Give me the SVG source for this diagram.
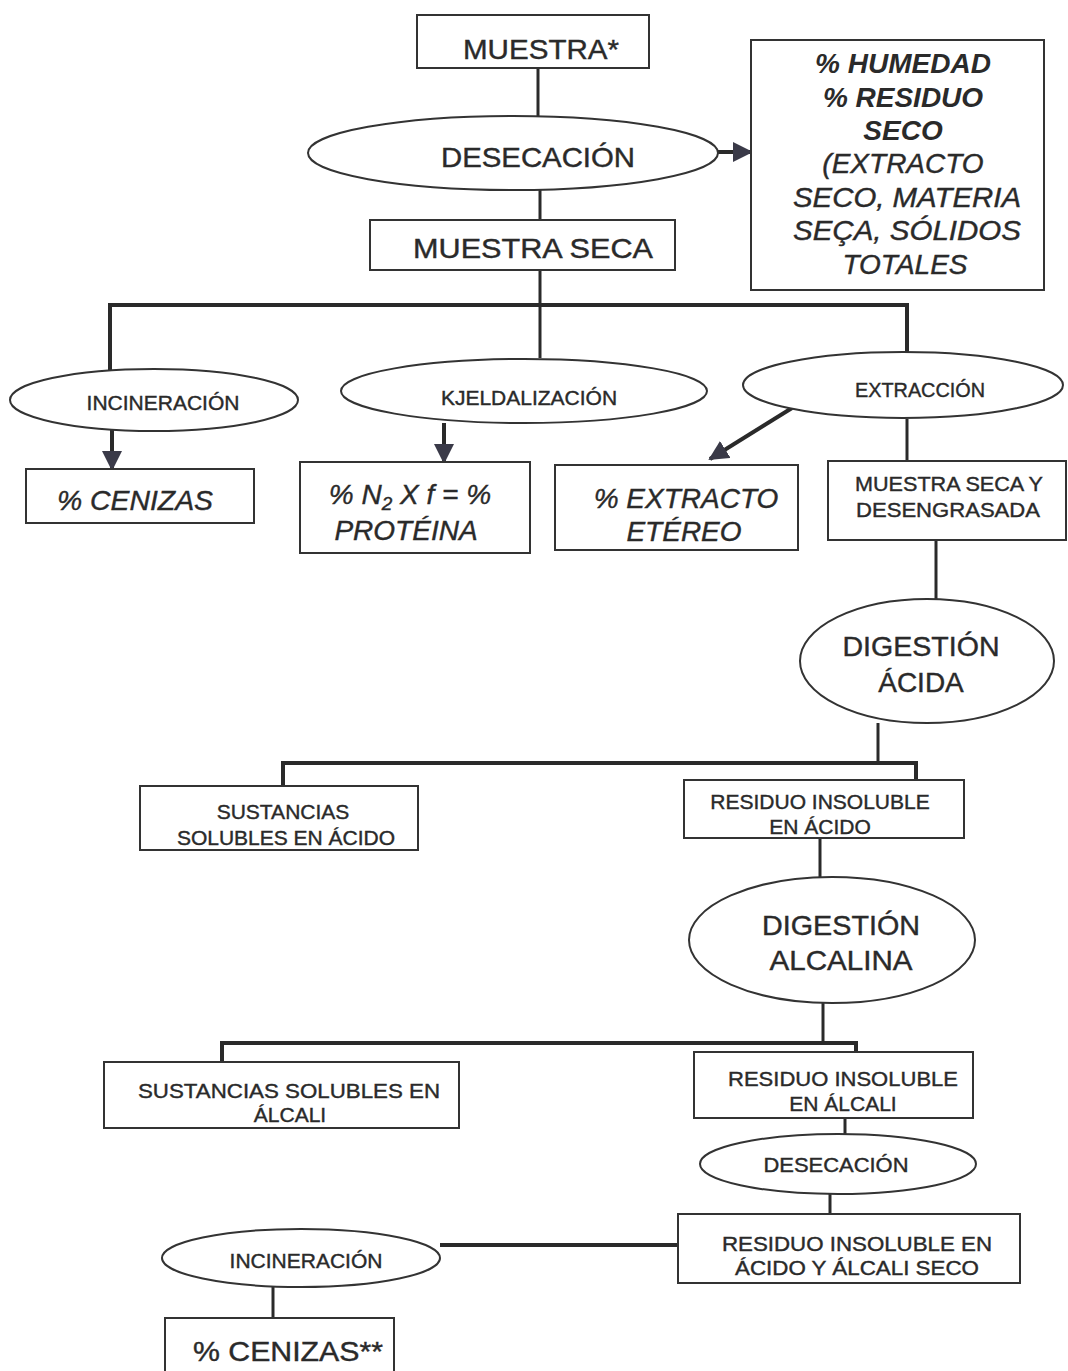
<svg xmlns="http://www.w3.org/2000/svg" width="1068" height="1371" viewBox="0 0 1068 1371">
<style>
.box{fill:#fff;stroke:#333;stroke-width:2}
.ell{fill:#fff;stroke:#333;stroke-width:2}
.ln{fill:none;stroke:#2a2a2a;stroke-width:3}
.bus{fill:none;stroke:#2a2a2a;stroke-width:4}
text{font-family:"Liberation Sans",Arial,sans-serif;fill:#2a2a2a;stroke:#2a2a2a;stroke-width:0.4;text-anchor:middle}
.l{font-size:28px}
.s{font-size:21px}
.i{font-style:italic}
.b{font-weight:bold;stroke-width:0}
</style>
<defs>
<marker id="ahb" viewBox="0 0 10 10" refX="9" refY="5" markerWidth="20" markerHeight="20" orient="auto" markerUnits="userSpaceOnUse">
<path d="M0,0 L10,5 L0,10 Z" fill="#3a3a48"/>
</marker>
</defs>
<rect width="1068" height="1371" fill="#fff"/>
<g id="connectors">
<line class="ln" x1="538" y1="68" x2="538" y2="116"/>
<line class="ln" x1="718" y1="152" x2="751" y2="152" marker-end="url(#ahb)" style="stroke-width:4"/>
<line class="ln" x1="540" y1="190" x2="540" y2="220"/>
<line class="ln" x1="540" y1="270" x2="540" y2="358"/>
<polyline class="bus" points="110,370 110,305 907,305 907,353"/>
<line class="ln" x1="112" y1="430" x2="112" y2="469" marker-end="url(#ahb)" style="stroke-width:4"/>
<line class="ln" x1="444" y1="423" x2="444" y2="462" marker-end="url(#ahb)" style="stroke-width:4"/>
<line class="ln" x1="792" y1="408" x2="710" y2="459" marker-end="url(#ahb)" style="stroke-width:4"/>
<line class="ln" x1="907" y1="419" x2="907" y2="461"/>
<line class="ln" x1="936" y1="540" x2="936" y2="599"/>
<line class="ln" x1="878" y1="723" x2="878" y2="763"/>
<polyline class="bus" points="283,786 283,763 916,763 916,780"/>
<line class="ln" x1="820" y1="838" x2="820" y2="877"/>
<line class="ln" x1="823" y1="1002" x2="823" y2="1043"/>
<polyline class="bus" points="222,1062 222,1043 856,1043 856,1052"/>
<line class="ln" x1="845" y1="1118" x2="845" y2="1135"/>
<line class="ln" x1="830" y1="1193" x2="830" y2="1214"/>
<line class="bus" x1="440" y1="1245" x2="678" y2="1245"/>
<line class="ln" x1="273" y1="1287" x2="273" y2="1318"/>
</g>
<g id="n_muestra">
<rect class="box" x="417" y="15" width="232" height="53"/>
<text class="l" x="541" y="59" textLength="156" lengthAdjust="spacingAndGlyphs">MUESTRA*</text>
</g>
<g id="n_desecacion1">
<ellipse class="ell" cx="513" cy="153" rx="205" ry="37"/>
<text class="l" x="538" y="167" textLength="194" lengthAdjust="spacingAndGlyphs">DESECACIÓN</text>
</g>
<g id="n_humedad">
<rect class="box" x="751" y="40" width="293" height="250"/>
<text class="l i b" x="903" y="73">% HUMEDAD</text>
<text class="l i b" x="903" y="107">% RESIDUO</text>
<text class="l i b" x="903" y="140">SECO</text>
<text class="l i" x="903" y="173">(EXTRACTO</text>
<text class="l i" x="907" y="207" textLength="228" lengthAdjust="spacingAndGlyphs">SECO, MATERIA</text>
<text class="l i" x="907" y="240" textLength="228" lengthAdjust="spacingAndGlyphs">SEÇA, SÓLIDOS</text>
<text class="l i" x="905" y="274">TOTALES</text>
</g>
<g id="n_muestraseca">
<rect class="box" x="370" y="220" width="305" height="50"/>
<text class="l" x="533" y="258" textLength="240" lengthAdjust="spacingAndGlyphs">MUESTRA SECA</text>
</g>
<g id="n_incineracion1">
<ellipse class="ell" cx="154" cy="400" rx="144" ry="31"/>
<text class="s" x="163" y="410">INCINERACIÓN</text>
</g>
<g id="n_kjeldal">
<ellipse class="ell" cx="524" cy="391" rx="183" ry="32"/>
<text class="s" x="529" y="405">KJELDALIZACIÓN</text>
</g>
<g id="n_extraccion">
<ellipse class="ell" cx="903" cy="385" rx="160" ry="33"/>
<text class="s" x="920" y="397" textLength="130" lengthAdjust="spacingAndGlyphs">EXTRACCIÓN</text>
</g>
<g id="n_cenizas1">
<rect class="box" x="26" y="469" width="228" height="54"/>
<text class="l i" x="135" y="510" textLength="156" lengthAdjust="spacingAndGlyphs">% CENIZAS</text>
</g>
<g id="n_proteina">
<rect class="box" x="300" y="462" width="230" height="91"/>
<text class="l i" x="410" y="504">% N<tspan font-size="19" dy="6">2</tspan><tspan dy="-6"> X f = %</tspan></text>
<text class="l i" x="406" y="540">PROTÉINA</text>
</g>
<g id="n_etereo">
<rect class="box" x="555" y="465" width="243" height="85"/>
<text class="l i" x="686" y="508">% EXTRACTO</text>
<text class="l i" x="684" y="541">ETÉREO</text>
</g>
<g id="n_desengrasada">
<rect class="box" x="828" y="461" width="238" height="79"/>
<text class="s" x="949" y="491" textLength="188" lengthAdjust="spacingAndGlyphs">MUESTRA SECA Y</text>
<text class="s" x="948" y="517" textLength="184" lengthAdjust="spacingAndGlyphs">DESENGRASADA</text>
</g>
<g id="n_digacida">
<ellipse class="ell" cx="927" cy="661" rx="127" ry="62"/>
<text class="l" x="921" y="656" textLength="157" lengthAdjust="spacingAndGlyphs">DIGESTIÓN</text>
<text class="l" x="921" y="692">ÁCIDA</text>
</g>
<g id="n_solacido">
<rect class="box" x="140" y="786" width="278" height="64"/>
<text class="s" x="283" y="819">SUSTANCIAS</text>
<text class="s" x="286" y="845">SOLUBLES EN ÁCIDO</text>
</g>
<g id="n_insacido">
<rect class="box" x="684" y="780" width="280" height="58"/>
<text class="s" x="820" y="809">RESIDUO INSOLUBLE</text>
<text class="s" x="820" y="834">EN ÁCIDO</text>
</g>
<g id="n_digalcalina">
<ellipse class="ell" cx="832" cy="940" rx="143" ry="63"/>
<text class="l" x="841" y="935" textLength="158" lengthAdjust="spacingAndGlyphs">DIGESTIÓN</text>
<text class="l" x="841" y="970" textLength="143" lengthAdjust="spacingAndGlyphs">ALCALINA</text>
</g>
<g id="n_solalcali">
<rect class="box" x="104" y="1062" width="355" height="66"/>
<text class="s" x="289" y="1098" textLength="302" lengthAdjust="spacingAndGlyphs">SUSTANCIAS SOLUBLES EN</text>
<text class="s" x="290" y="1122">ÁLCALI</text>
</g>
<g id="n_insalcali">
<rect class="box" x="694" y="1052" width="279" height="66"/>
<text class="s" x="843" y="1086" textLength="230" lengthAdjust="spacingAndGlyphs">RESIDUO INSOLUBLE</text>
<text class="s" x="843" y="1111">EN ÁLCALI</text>
</g>
<g id="n_desecacion2">
<ellipse class="ell" cx="838" cy="1164" rx="138" ry="30"/>
<text class="s" x="836" y="1172" textLength="145" lengthAdjust="spacingAndGlyphs">DESECACIÓN</text>
</g>
<g id="n_insseco">
<rect class="box" x="678" y="1214" width="342" height="69"/>
<text class="s" x="857" y="1251" textLength="270" lengthAdjust="spacingAndGlyphs">RESIDUO INSOLUBLE EN</text>
<text class="s" x="857" y="1275" textLength="244" lengthAdjust="spacingAndGlyphs">ÁCIDO Y ÁLCALI SECO</text>
</g>
<g id="n_incineracion2">
<ellipse class="ell" cx="301" cy="1258" rx="139" ry="29"/>
<text class="s" x="306" y="1268">INCINERACIÓN</text>
</g>
<g id="n_cenizas2">
<rect class="box" x="165" y="1318" width="229" height="55"/>
<text class="l" x="288" y="1361" textLength="190" lengthAdjust="spacingAndGlyphs">% CENIZAS**</text>
</g>
</svg>
